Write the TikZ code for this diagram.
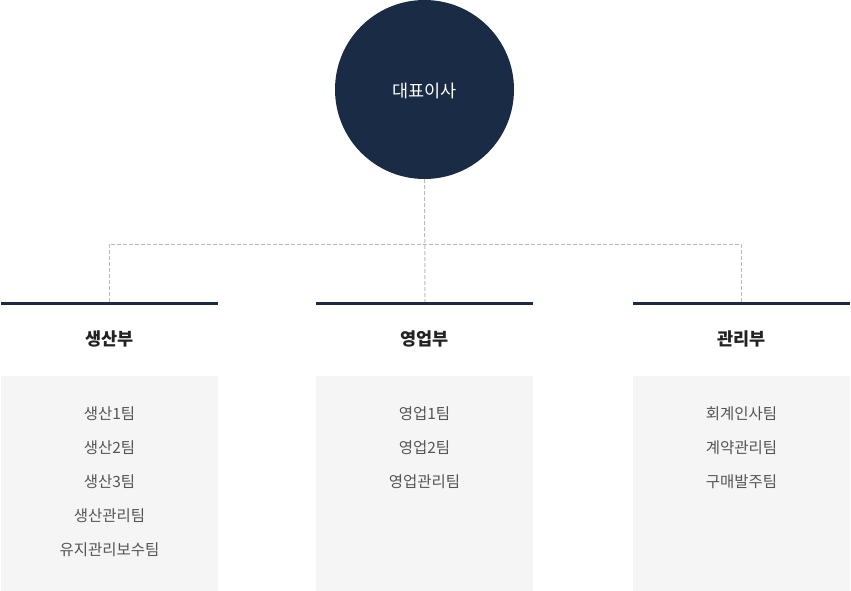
\documentclass[tikz,border=0pt]{standalone}
\usepackage{fontspec}
\setmainfont{Noto Sans CJK KR}
\definecolor{navy}{HTML}{1A2B45}
\definecolor{boxgray}{HTML}{F5F5F5}
\definecolor{dashgray}{HTML}{BBBBBB}
\definecolor{txtgray}{HTML}{555555}
\definecolor{headtxt}{HTML}{222222}
\begin{document}
\begin{tikzpicture}[x=1pt,y=-1pt,
  conn/.style={draw=dashgray,line width=1pt,dash pattern=on 4pt off 2pt},
  bar/.style={draw=navy,line width=3.5pt},
  head/.style={font=\fontsize{17.5}{20}\selectfont\bfseries,text=headtxt},
  item/.style={font=\fontsize{15.5}{18}\selectfont,text=txtgray},
  panel/.style={fill=boxgray,draw=none}]
\useasboundingbox (0,0) rectangle (851,591);
% panels
\fill[boxgray] (1,376) rectangle (218,591);
\fill[boxgray] (316,376) rectangle (533,591);
\fill[boxgray] (633,376) rectangle (850,591);
% connectors
\node[circle,fill=navy,minimum size=179pt,inner sep=0pt] (ceo) at (424.5,89.5) {};
\node[text=white,font=\fontsize{17.5}{20}\selectfont] (ceot) at (424.5,90.5) {대표이사};
\coordinate (jc) at (425,244);
\coordinate (jl) at (109,244);
\coordinate (jr) at (741,244);
\coordinate (bl) at (109,302);
\coordinate (bm) at (425,302);
\coordinate (br) at (741,302);
\draw[conn] (ceo.south) -- (bm);
\draw[conn] (bl) -- (jl) -- (jr) -- (br);
% bars
\coordinate (b1a) at (1,303.5); \coordinate (b1b) at (218,303.5);
\coordinate (b2a) at (316,303.5); \coordinate (b2b) at (533,303.5);
\coordinate (b3a) at (633,303.5); \coordinate (b3b) at (850,303.5);
\draw[bar] (b1a) -- (b1b);
\draw[bar] (b2a) -- (b2b);
\draw[bar] (b3a) -- (b3b);
% headings
\node[head] (h1) at (109.5,339) {생산부};
\node[head] (h2) at (424.5,339) {영업부};
\node[head] (h3) at (741.5,339) {관리부};
% items
\node[item] (p1) at (109.5,413.5) {생산1팀};
\node[item] (p2) at (109.5,447.5) {생산2팀};
\node[item] (p3) at (109.5,481.5) {생산3팀};
\node[item] (p4) at (109.5,515.5) {생산관리팀};
\node[item] (p5) at (109.5,549.5) {유지관리보수팀};
\node[item] (s1) at (424.5,413.5) {영업1팀};
\node[item] (s2) at (424.5,447.5) {영업2팀};
\node[item] (s3) at (424.5,481.5) {영업관리팀};
\node[item] (m1) at (741.5,413.5) {회계인사팀};
\node[item] (m2) at (741.5,447.5) {계약관리팀};
\node[item] (m3) at (741.5,481.5) {구매발주팀};
\end{tikzpicture}
\end{document}
